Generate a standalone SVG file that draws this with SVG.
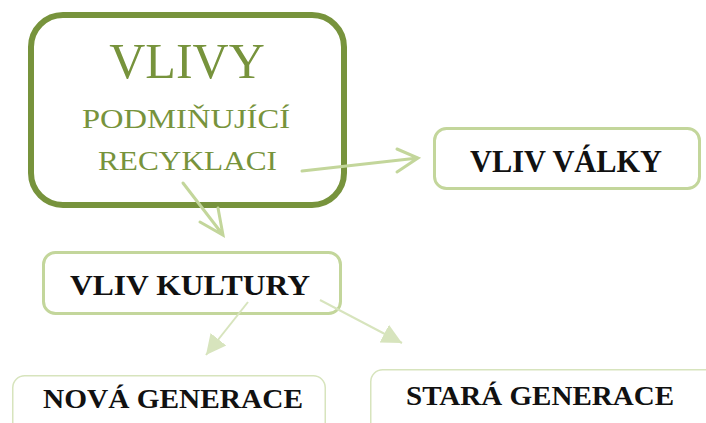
<svg xmlns="http://www.w3.org/2000/svg" width="706" height="423" viewBox="0 0 706 423">
<style>
.main{fill:none;stroke:#77933C;stroke-width:6}
.box{fill:#fff;stroke:#C3D69B;stroke-width:3}
.box2{fill:#fff;stroke:#D7E4BD;stroke-width:1.5}
.t1{font-family:"Liberation Serif","Times New Roman",serif;fill:#77933C;text-anchor:middle}
.t2{font-family:"Liberation Serif","Times New Roman",serif;font-weight:bold;fill:#111;text-anchor:middle}
.c1{fill:none;stroke:#C3D69B;stroke-width:3;stroke-linecap:round}
.c2{fill:none;stroke:#D7E4BD;stroke-width:2}
</style>
<defs>
<marker id="tri" markerUnits="userSpaceOnUse" markerWidth="22" markerHeight="22" viewBox="0 0 22 22" refX="20" refY="11" orient="auto">
<path d="M0,1 L20,11 L0,21 Z" fill="#D7E4BD"/>
</marker>
</defs>
<rect width="706" height="423" fill="#fff"/>
<g id="main">
<rect class="main" x="31" y="15" width="313" height="190" rx="32"/>
<text class="t1" x="187" y="78" font-size="50">VLIVY</text>
<text class="t1" x="186" y="128" font-size="27" textLength="208" lengthAdjust="spacingAndGlyphs">PODMIŇUJÍCÍ</text>
<text class="t1" x="187.5" y="170" font-size="27" textLength="179" lengthAdjust="spacingAndGlyphs">RECYKLACI</text>
</g>
<g id="valky">
<rect class="box" x="434.5" y="128.5" width="265" height="60" rx="12"/>
<text class="t2" x="566" y="172" font-size="31" textLength="192" lengthAdjust="spacingAndGlyphs">VLIV VÁLKY</text>
</g>
<g id="kultury">
<rect class="box" x="43.5" y="252.5" width="297" height="61" rx="12"/>
<text class="t2" x="190" y="295" font-size="30" textLength="240" lengthAdjust="spacingAndGlyphs">VLIV KULTURY</text>
</g>
<g id="nova">
<rect class="box2" x="12.75" y="375.75" width="312.5" height="70" rx="12"/>
<text class="t2" x="173" y="408" font-size="27" textLength="260" lengthAdjust="spacingAndGlyphs">NOVÁ GENERACE</text>
</g>
<g id="stara">
<rect class="box2" x="370.75" y="369.75" width="350" height="80" rx="12"/>
<text class="t2" x="540" y="405" font-size="27" textLength="268" lengthAdjust="spacingAndGlyphs">STARÁ GENERACE</text>
</g>
<g id="connectors">
<path class="c1" d="M302,171 L418,158 M397,149 L418,158 L397,172"/>
<path class="c1" d="M183,183 L223,235 M200,222 L223,235 L218,208"/>
<path class="c2" d="M248,302 L206,355" marker-end="url(#tri)"/>
<path class="c2" d="M320,300 L402,343" marker-end="url(#tri)"/>
</g>
</svg>
